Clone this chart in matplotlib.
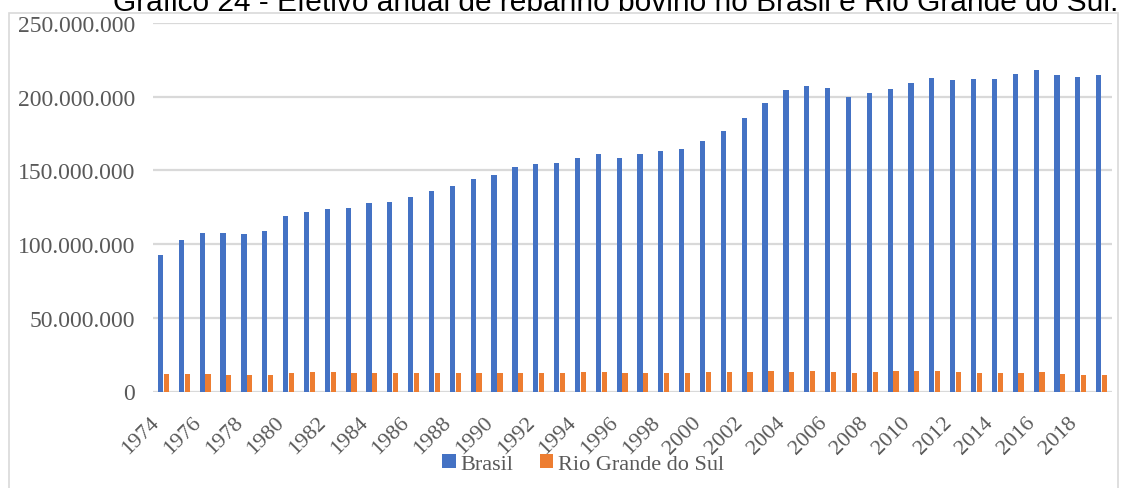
import matplotlib.pyplot as plt
from matplotlib.patches import Rectangle
from matplotlib.ticker import FuncFormatter
import numpy as np

anos = list(range(1974, 2020))

# efetivo de bovinos (milhões de cabeças)
brasil = [92.5, 102.5, 107.3, 107.3, 106.9, 109.2, 119.0, 121.8, 123.5, 124.2,
          127.7, 128.4, 132.2, 135.7, 139.6, 144.2, 147.1, 152.1, 154.2, 155.1,
          158.2, 161.2, 158.3, 161.4, 163.2, 164.6, 169.9, 176.4, 185.3, 195.5,
          204.5, 207.2, 205.9, 199.8, 202.3, 205.3, 209.5, 212.8, 211.3, 211.8,
          212.3, 215.2, 218.2, 215.0, 213.5, 214.7]
rio_grande_do_sul = [11.8, 11.8, 11.8, 11.5, 11.2, 11.2, 12.5, 13.3, 13.4, 12.6,
                     12.7, 12.6, 12.6, 12.7, 12.7, 12.7, 12.7, 12.7, 12.7, 12.7,
                     13.4, 13.4, 12.8, 12.8, 12.8, 12.5, 12.9, 12.9, 13.5, 13.6,
                     13.4, 13.6, 12.9, 12.5, 12.9, 13.6, 13.6, 13.6, 13.4, 12.8,
                     12.8, 12.8, 12.9, 12.0, 11.3, 11.3]

brasil = [v * 1e6 for v in brasil]
rio_grande_do_sul = [v * 1e6 for v in rio_grande_do_sul]

titulo = "Gráfico 24 - Efetivo anual de rebanho bovino no Brasil e Rio Grande do Sul."

cinza = "#595959"
serif = ["Liberation Serif", "DejaVu Serif"]

fig = plt.figure(figsize=(11.48, 4.89), dpi=100)
ax = fig.add_axes([153 / 1148, 1 - 392.5 / 489, (1112 - 153) / 1148, (392.5 - 24) / 489])

x = np.arange(len(anos))
w = 0.25
ax.bar(x - 0.14, brasil, w, color="#4472C4", label="Brasil", zorder=3)
ax.bar(x + 0.14, rio_grande_do_sul, w, color="#ED7D31", label="Rio Grande do Sul", zorder=3)

ax.set_xlim(-0.5, len(anos) - 0.5)
ax.set_ylim(0, 250e6)
ax.set_yticks(np.arange(0, 250e6 + 1, 50e6))
ax.yaxis.set_major_formatter(FuncFormatter(lambda v, p: f"{int(v):,}".replace(",", ".")))
ax.grid(axis="y", color="#d9d9d9", linewidth=1.6, zorder=0)
ax.set_axisbelow(True)

ax.set_xticks(x[::2])
ax.set_xticklabels([str(a) for a in anos[::2]], rotation=45, ha="right")
ax.tick_params(axis="x", length=0, pad=15, labelsize=16, labelcolor=cinza)
ax.tick_params(axis="y", length=0, pad=13, labelsize=17, labelcolor=cinza)
for lbl in ax.get_xticklabels() + ax.get_yticklabels():
    lbl.set_family(serif)

for s in ax.spines.values():
    s.set_visible(False)

leg = fig.legend(loc="center", bbox_to_anchor=(583 / 1148, 1 - 465 / 489), ncol=2,
                 frameon=False, handlelength=0.6, handleheight=0.6, handletextpad=0.2,
                 columnspacing=1.2, prop={"family": serif, "size": 16})
for t in leg.get_texts():
    t.set_color(cinza)

# moldura do gráfico
fig.patches.append(Rectangle((9 / 1148, -0.05), (1118 - 9) / 1148, 1.05 - 14 / 489,
                             transform=fig.transFigure, fill=False,
                             edgecolor="#d9d9d9", linewidth=1.2))

fig.text(616 / 1148, 1 - 11 / 489, titulo, ha="center", va="baseline",
         fontsize=21.5, family=["Liberation Sans", "DejaVu Sans"], color="black")

fig.savefig("out.png", dpi=100)
